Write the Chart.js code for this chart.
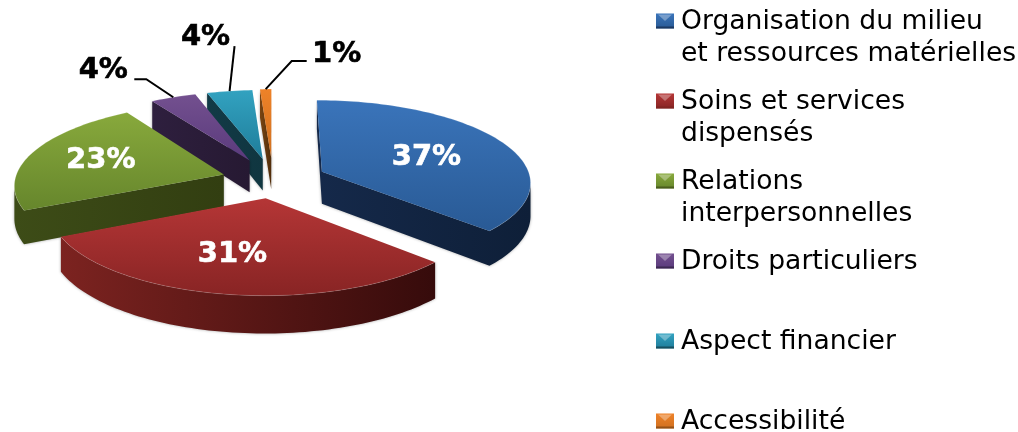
<!DOCTYPE html>
<html lang="fr">
<head>
<meta charset="utf-8">
<title>Répartition des plaintes</title>
<script src="https://cdn.jsdelivr.net/npm/chart.js@4/dist/chart.umd.min.js"></script>
<style>
  html, body { margin: 0; background: #fff; }
  canvas { display: block; }
</style>
</head>
<body>
<canvas id="pieChart" width="1018" height="432"></canvas>
<script>
const categories = [
  'Organisation du milieu et ressources matérielles',
  'Soins et services dispensés',
  'Relations interpersonnelles',
  'Droits particuliers',
  'Aspect financier',
  'Accessibilité'
];
const shares = [37, 31, 23, 4, 4, 1];

const legendLines = [
  ['Organisation du milieu', 'et ressources matérielles'],
  ['Soins et services', 'dispensés'],
  ['Relations', 'interpersonnelles'],
  ['Droits particuliers'],
  ['Aspect financier'],
  ['Accessibilité']
];

// top face gradient (back to front), side walls (left to right)
const topLight  = ['#3a74ba', '#b53636', '#88a93c', '#73508f', '#32a2c0', '#ee8228'];
const topDark   = ['#295a95', '#882424', '#66862c', '#5a3a7c', '#1f7d9a', '#d0701f'];
const sideLeft  = ['#15294a', '#7c2320', '#3d4c17', '#2e1f3e', '#123a46', '#7a4512'];
const sideRight = ['#0e1f38', '#360b0b', '#323e11', '#261932', '#103640', '#4f2c0a'];

// how far each wedge is pulled out, in radii
const explode = [0.258, 0.22, 0.247, 0.27, 0.27, 0.28];

// where the white percentage sits inside the big wedges: radii along the middle, then a px nudge
const insideLabel = [
  { r: 0.55, nudge: [4, 3] },
  { r: 0.6, nudge: [-11, 2] },
  { r: 0.62, nudge: [-3, 0] },
  null, null, null
];

// leader line bends and text position for the thin wedges, relative to the wedge rim
const callouts = [
  null, null, null,
  { bends: [[-27, -18], [-39, -18]], text: [-70, -27] },
  { bends: [[5, -45]], text: [-24, -54] },
  { bends: [[26, -28], [41, -28]], text: [71, -35] }
];

// ── Projection of the flat pie onto the tilted view ─────────
const STRETCH_X = 1.161;
const TILT = 0.4533;
const PERSPECTIVE = 0.116;
const DEPTH = 32.5;

function project(arc, u, v) {
  const s = 1 / (1 - PERSPECTIVE * v);
  return {
    x: arc.x + STRETCH_X * arc.outerRadius * u * s,
    y: arc.y + TILT * arc.outerRadius * v * s,
    depth: DEPTH * s
  };
}

function wedgeGeometry(arc, i) {
  const mid = (arc.startAngle + arc.endAngle) / 2;
  const ax = explode[i] * Math.cos(mid);
  const ay = explode[i] * Math.sin(mid);
  const at = (angle, r) => project(arc, ax + r * Math.cos(angle), ay + r * Math.sin(angle));

  const rim = [];
  const steps = Math.max(4, Math.ceil((arc.endAngle - arc.startAngle) * 40));
  for (let k = 0; k <= steps; k++) {
    rim.push(at(arc.startAngle + (arc.endAngle - arc.startAngle) * k / steps, 1));
  }
  return { mid, ay, at, rim, outline: [at(0, 0), ...rim] };
}

function tracePolygon(ctx, points) {
  ctx.beginPath();
  points.forEach((p, k) => (k ? ctx.lineTo(p.x, p.y) : ctx.moveTo(p.x, p.y)));
  ctx.closePath();
}

function drawWedge(ctx, geo, i) {
  const pts = geo.outline;
  const xs = pts.map(p => p.x);
  const ys = pts.map(p => p.y);

  // walls: an edge walked leftwards on a clockwise outline faces the viewer
  const side = ctx.createLinearGradient(Math.min(...xs), 0, Math.max(...xs), 0);
  side.addColorStop(0, sideLeft[i]);
  side.addColorStop(1, sideRight[i]);

  ctx.save();
  ctx.shadowColor = 'rgba(0,0,0,0.35)';
  ctx.shadowBlur = 3;
  ctx.beginPath();
  pts.forEach((p, k) => {
    const q = pts[(k + 1) % pts.length];
    if (q.x < p.x) {
      ctx.moveTo(p.x, p.y);
      ctx.lineTo(q.x, q.y);
      ctx.lineTo(q.x, q.y + q.depth);
      ctx.lineTo(p.x, p.y + p.depth);
      ctx.closePath();
    }
  });
  ctx.fillStyle = side;
  ctx.fill();
  ctx.restore();

  const top = ctx.createLinearGradient(0, Math.min(...ys), 0, Math.max(...ys));
  top.addColorStop(0, topLight[i]);
  top.addColorStop(1, topDark[i]);
  tracePolygon(ctx, pts);
  ctx.fillStyle = top;
  ctx.fill();

  // faint bevel along the rim
  ctx.beginPath();
  geo.rim.forEach((p, k) => (k ? ctx.lineTo(p.x, p.y) : ctx.moveTo(p.x, p.y)));
  ctx.strokeStyle = 'rgba(255,255,255,0.16)';
  ctx.lineWidth = 1;
  ctx.stroke();
}

function drawHeavyText(ctx, text, x, y, colour) {
  ctx.fillStyle = colour;
  ctx.strokeStyle = colour;
  ctx.lineWidth = 0.6;
  ctx.fillText(text, x, y);
  ctx.strokeText(text, x, y);
}

function drawValueLabels(ctx, arcs, geos) {
  ctx.font = 'bold 29px "DejaVu Sans"';
  ctx.textAlign = 'center';
  ctx.textBaseline = 'middle';
  arcs.forEach((arc, i) => {
    const text = shares[i] + '%';
    const inside = insideLabel[i];
    if (inside) {
      const p = geos[i].at(geos[i].mid, inside.r);
      drawHeavyText(ctx, text, p.x + inside.nudge[0], p.y + inside.nudge[1], '#fff');
      return;
    }
    const start = geos[i].at(geos[i].mid, 1);
    const c = callouts[i];
    ctx.beginPath();
    ctx.moveTo(start.x, start.y);
    c.bends.forEach(b => ctx.lineTo(start.x + b[0], start.y + b[1]));
    ctx.strokeStyle = '#000';
    ctx.lineWidth = 2;
    ctx.stroke();
    drawHeavyText(ctx, text, start.x + c.text[0], start.y + c.text[1], '#000');
  });
}

// ── Legend with bevelled swatches ───────────────────────────
function drawSwatch(ctx, x, y, i) {
  const w = 18, h = 15;
  const g = ctx.createLinearGradient(0, y, 0, y + h);
  g.addColorStop(0, topLight[i]);
  g.addColorStop(1, topDark[i]);
  ctx.fillStyle = g;
  ctx.fillRect(x, y, w, h);
  ctx.beginPath();
  ctx.moveTo(x + 2, y + 1);
  ctx.lineTo(x + w - 2, y + 1);
  ctx.lineTo(x + w / 2, y + h * 0.5);
  ctx.closePath();
  ctx.fillStyle = 'rgba(255,255,255,0.32)';
  ctx.fill();
  ctx.fillStyle = sideLeft[i];
  ctx.globalAlpha = 0.7;
  ctx.fillRect(x, y + h - 2, w, 2);
  ctx.globalAlpha = 1;
}

function drawLegend(ctx) {
  const slotTop = 21;
  const slotPitch = 80;
  ctx.font = '26.6px "DejaVu Sans"';
  ctx.textAlign = 'left';
  ctx.textBaseline = 'middle';
  legendLines.forEach((lines, i) => {
    const y = slotTop + i * slotPitch;
    drawSwatch(ctx, 656, y - 7.5, i);
    ctx.fillStyle = '#000';
    lines.forEach((line, k) => ctx.fillText(line, 681, y + 1.5 + k * 31.5));
  });
}

const pie3d = {
  id: 'pie3d',
  beforeDatasetDraw(chart) {
    const ctx = chart.ctx;
    const arcs = chart.getDatasetMeta(0).data;
    const geos = arcs.map((arc, i) => wedgeGeometry(arc, i));
    // painted from the back of the view to the front
    const order = arcs.map((_, i) => i).sort((a, b) => geos[a].ay - geos[b].ay);
    order.forEach(i => drawWedge(ctx, geos[i], i));
    drawValueLabels(ctx, arcs, geos);
    drawLegend(ctx);
    return false;
  }
};

new Chart(document.getElementById('pieChart').getContext('2d'), {
  type: 'pie',
  data: {
    labels: categories,
    datasets: [{ data: shares, backgroundColor: topLight, borderWidth: 0 }]
  },
  plugins: [pie3d],
  options: {
    responsive: false,
    animation: false,
    layout: { padding: { right: 472, bottom: 72 } },
    plugins: { legend: { display: false }, tooltip: { enabled: false } }
  }
});
</script>
</body>
</html>
